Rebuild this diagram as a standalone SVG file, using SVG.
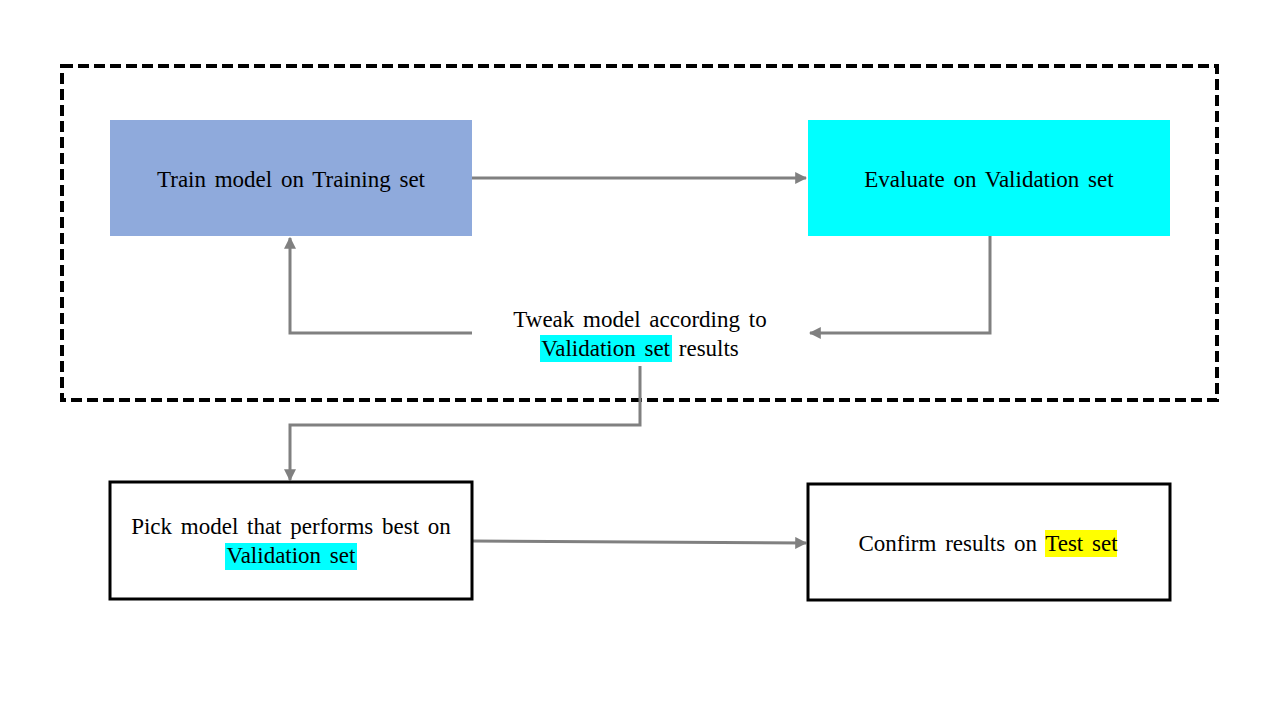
<svg xmlns="http://www.w3.org/2000/svg" width="1280" height="720" viewBox="0 0 1280 720">
<defs>
<marker id="ah" viewBox="0 0 10 10" refX="9" refY="5" markerWidth="4" markerHeight="4" orient="auto" markerUnits="strokeWidth">
<path d="M0,0 L10,5 L0,10 z" fill="#808080"/>
</marker>
<style>
.t{font-family:"Liberation Serif","Times New Roman",serif;font-size:23px;word-spacing:3px;fill:#000;text-anchor:middle}
.c{fill:none;stroke:#808080;stroke-width:3}
</style>
</defs>
<rect width="1280" height="720" fill="#fff"/>
<rect id="loop" x="62" y="66" width="1155" height="334" fill="none" stroke="#000" stroke-width="4" stroke-dasharray="11 5"/>
<g id="connectors">
<path class="c" d="M472,178 L806,178" marker-end="url(#ah)"/>
<path class="c" d="M990,236 L990,333 L810,333" marker-end="url(#ah)"/>
<path class="c" d="M472,333 L290,333 L290,238" marker-end="url(#ah)"/>
<path class="c" d="M640,366 L640,425 L290,425 L290,480" marker-end="url(#ah)"/>
<path class="c" d="M472,541 L806,543" marker-end="url(#ah)"/>
</g>
<g id="train">
<rect x="110" y="120" width="362" height="116" fill="#8FAADC"/>
<text class="t" x="291" y="187">Train model on Training set</text>
</g>
<g id="evaluate">
<rect x="808" y="120" width="362" height="116" fill="#00FFFF"/>
<text class="t" x="989" y="187">Evaluate on Validation set</text>
</g>
<g id="tweak">
<rect x="540" y="335" width="132" height="27" fill="#00FFFF"/>
<text class="t" x="640" y="327">Tweak model according to</text>
<text class="t" x="640" y="356">Validation set results</text>
</g>
<g id="pick">
<rect x="110" y="482" width="362" height="117" fill="#fff" stroke="#000" stroke-width="3"/>
<rect x="225" y="543" width="132" height="27" fill="#00FFFF"/>
<text class="t" x="291" y="534">Pick model that performs best on</text>
<text class="t" x="291" y="563">Validation set</text>
</g>
<g id="confirm">
<rect x="808" y="484" width="362" height="116" fill="#fff" stroke="#000" stroke-width="3"/>
<rect x="1045" y="530" width="72" height="27" fill="#FFFF00"/>
<text class="t" x="988" y="551">Confirm results on Test set</text>
</g>
</svg>
